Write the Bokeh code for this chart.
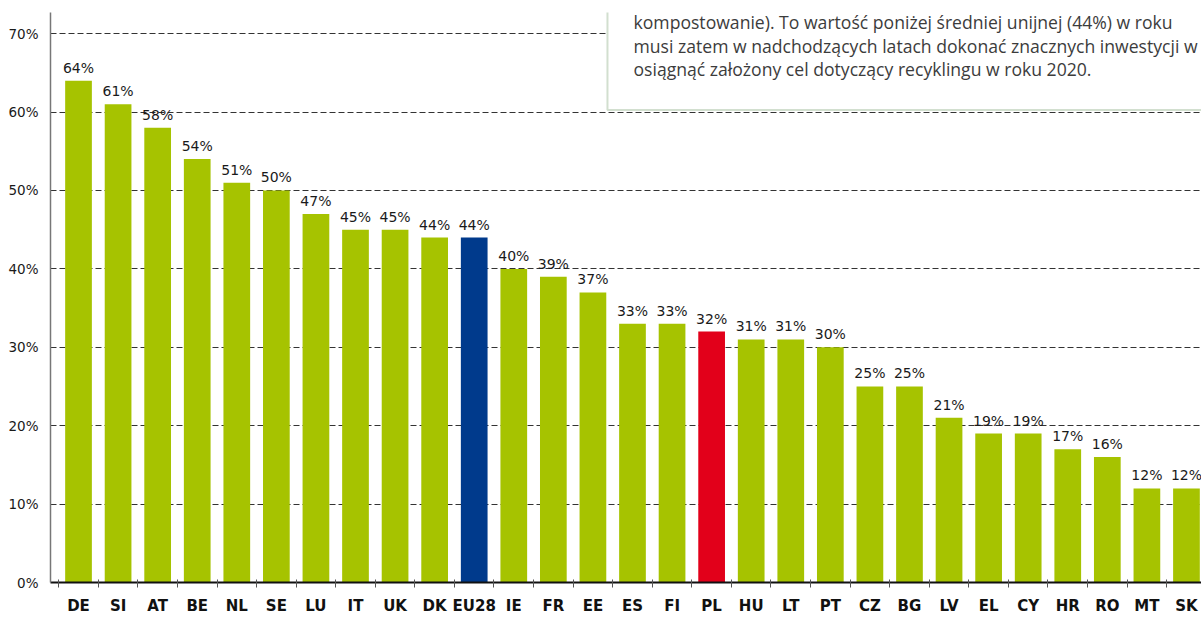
from bokeh.plotting import figure
from bokeh.models import ColumnDataSource, Range1d, FixedTicker, BoxAnnotation, Label
from bokeh.core.properties import value
from bokeh.embed import file_html
from bokeh.resources import INLINE

# ---------------- data ----------------
categories = ["DE", "SI", "AT", "BE", "NL", "SE", "LU", "IT", "UK", "DK", "EU28",
              "IE", "FR", "EE", "ES", "FI", "PL", "HU", "LT", "PT", "CZ", "BG",
              "LV", "EL", "CY", "HR", "RO", "MT", "SK"]
values = [64, 61, 58, 54, 51, 50, 47, 45, 45, 44, 44, 40, 39, 37, 33, 33, 32, 31,
          31, 30, 25, 25, 21, 19, 19, 17, 16, 12, 12]
y_ticks = [0, 10, 20, 30, 40, 50, 60, 70]
y_tick_labels = ["0%", "10%", "20%", "30%", "40%", "50%", "60%", "70%"]
note_lines = [
    "kompostowanie). To wartość poniżej średniej unijnej (44%) w roku",
    "musi zatem w nadchodzących latach dokonać znacznych inwestycji w",
    "osiągnąć założony cel dotyczący recyklingu w roku 2020.",
]

# ---------------- styles ----------------
GREEN = "#a6c300"
HIGHLIGHT = {"EU28": "#003a8c", "PL": "#e2001a"}

idx = list(range(len(categories)))
colors = [HIGHLIGHT.get(c, GREEN) for c in categories]
labels = [f"{v}%" for v in values]

src = ColumnDataSource(dict(x=idx, top=values, color=colors, label=labels))

p = figure(
    width=1201, height=617,
    x_range=Range1d(-0.708, 28.38), y_range=Range1d(0, 72.7),
    output_backend="svg", toolbar_location=None,
    min_border_left=50, min_border_right=0, min_border_top=12, min_border_bottom=33,
    background_fill_color="white", border_fill_color="white",
)
p.outline_line_color = None

p.vbar(x="x", top="top", bottom=0, width=0.675, fill_color="color",
       line_color=None, source=src)

p.text(x="x", y="top", text="label", source=src, text_align="center",
       text_baseline="alphabetic", y_offset=-13,
       text_font=value("DejaVu Sans"), text_font_size="14px", text_color="#1a1a1a")

# y axis
p.yaxis.ticker = FixedTicker(ticks=y_ticks)
p.yaxis.major_label_overrides = {t: l for t, l in zip(y_ticks, y_tick_labels)}
p.yaxis.major_tick_out = 0
p.yaxis.major_tick_in = 0
p.yaxis.minor_tick_out = 0
p.yaxis.minor_tick_in = 0
p.yaxis.major_label_standoff = 12
p.yaxis.axis_line_color = "#777777"
p.yaxis.axis_line_width = 1.5
p.yaxis.major_label_text_font = "DejaVu Sans"
p.yaxis.major_label_text_font_size = "13.5px"
p.yaxis.major_label_text_color = "#1a1a1a"

# x axis
p.xaxis.ticker = FixedTicker(ticks=idx, minor_ticks=[i - 0.5 for i in idx] + [len(idx) - 0.5])
p.xaxis.major_label_overrides = {i: c for i, c in zip(idx, categories)}
p.xaxis.major_tick_out = 0
p.xaxis.major_tick_in = 0
p.xaxis.minor_tick_out = 5
p.xaxis.minor_tick_in = 3
p.xaxis.minor_tick_line_color = "#555555"
p.xaxis.major_label_standoff = 9
p.xaxis.axis_line_color = "#111111"
p.xaxis.axis_line_width = 2
p.xaxis.major_label_text_font = "DejaVu Sans"
p.xaxis.major_label_text_font_style = "bold"
p.xaxis.major_label_text_font_size = "15px"
p.xaxis.major_label_text_color = "#111111"

p.xgrid.grid_line_color = None
p.ygrid.ticker = FixedTicker(ticks=[t for t in y_ticks if t > 0])
p.ygrid.grid_line_color = "#333333"
p.ygrid.grid_line_dash = "6 3"
p.ygrid.grid_line_width = 1

# note box (partially visible, top-right)
p.add_layout(BoxAnnotation(left=13.368, right=40, bottom=60.25, top=100,
                           fill_color="white", fill_alpha=1,
                           line_color="#6b9460", line_width=2, level="overlay"))
for k, line in enumerate(note_lines):
    p.add_layout(Label(x=14.026, y=71.44 - 3.0 * k, text=line,
                       text_font="Open Sans", text_font_size="17.6px",
                       text_color="#3c3c3c", text_baseline="alphabetic",
                       level="overlay"))

open("out.html", "w").write(file_html(p, INLINE))
